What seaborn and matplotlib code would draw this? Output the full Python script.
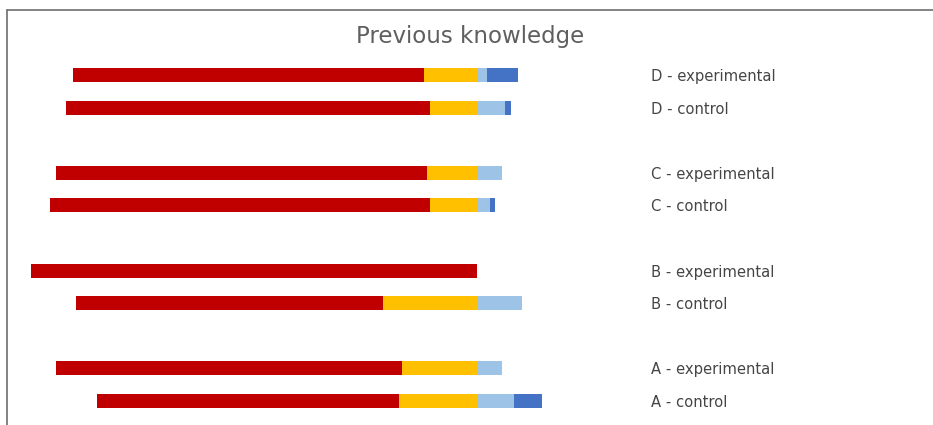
import matplotlib
matplotlib.use('Agg')
import matplotlib.pyplot as plt
from matplotlib.lines import Line2D
import seaborn as sns
import pandas as pd

# Данные (доли ответов, %), снизу вверх
groups = ['A - control', 'A - experimental', 'B - control', 'B - experimental',
          'C - control', 'C - experimental', 'D - control', 'D - experimental']
red = [67.7, 77.7, 68.9, 100.0, 85.3, 83.2, 81.8, 78.8]
yellow = [17.5, 16.8, 21.1, 0.0, 10.5, 11.2, 10.4, 11.9]
light = [8.4, 5.6, 10.1, 0.0, 3.1, 5.6, 6.3, 2.4]
blue = [6.3, 0.0, 0.0, 0.0, 1.1, 0.0, 1.5, 6.9]

df = pd.DataFrame({'group': groups, 'red': red, 'yellow': yellow,
                   'light': light, 'blue': blue})
# пары строк с промежутком между группами
df['pos'] = [i + i // 2 for i in range(len(df))]
df['left_all'] = -(df['red'] + df['yellow'])
df['left_yel'] = -df['yellow']
df['right_all'] = df['light'] + df['blue']

sns.set_style('white')
plt.rcParams['font.family'] = ['DejaVu Sans']

fig = plt.figure(figsize=(9.33, 4.25), dpi=100)
ax = fig.add_axes([0.0333, 0.018, 0.6580, 0.844])

layers = [('left_all', '#C00000'), ('left_yel', '#FFC000'),
          ('right_all', '#4472C4'), ('light', '#9DC3E6')]
for col, c in layers:
    sns.barplot(data=df, x=col, y='pos', orient='h', native_scale=True,
                color=c, saturation=1, width=0.43, errorbar=None,
                linewidth=0, ax=ax)

ax.set_xlim(-100, 37.8)
ax.set_ylim(-0.5, 10.5)
ax.yaxis.tick_right()
ax.set_yticks(df['pos'], df['group'])
ax.tick_params(axis='y', length=0, pad=4, labelsize=10.6, labelcolor='#454545')
ax.set_xticks([])
ax.set_xlabel('')
ax.set_ylabel('')
for s in ax.spines.values():
    s.set_visible(False)

fig.text(470 / 933, 1 - 36 / 425, 'Previous knowledge', ha='center', va='center',
         fontsize=16.5, color='#5f5f5f')

# рамка сверху и слева
fig.add_artist(Line2D([6.5 / 933, 1], [1 - 9.5 / 425] * 2, transform=fig.transFigure,
                      color='#6e6e6e', lw=1.2))
fig.add_artist(Line2D([6.5 / 933] * 2, [0, 1 - 9.5 / 425], transform=fig.transFigure,
                      color='#6e6e6e', lw=1.2))

fig.savefig('out.png', dpi=100)
